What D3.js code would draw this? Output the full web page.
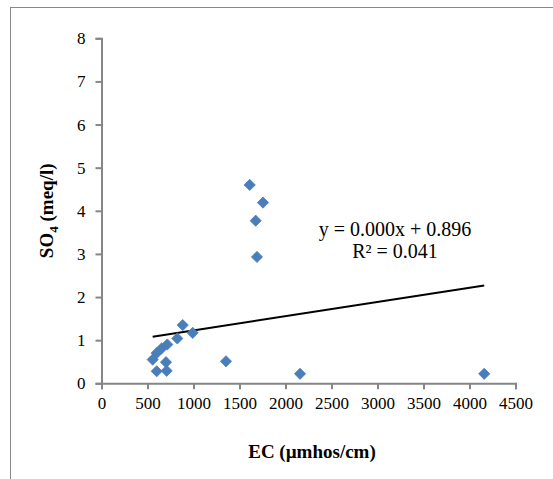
<!DOCTYPE html>
<html lang="en">
<head>
<meta charset="UTF-8">
<script src="https://d3js.org/d3.v7.min.js"></script>
<title>SO4 vs EC</title>
<style>
  body { margin: 0; background: #fff; }
  text { font-family: "Liberation Serif", "Times New Roman", serif; }
</style>
</head>
<body>
<svg id="chart" width="553" height="479"></svg>
<script>
// EC (µmhos/cm) and SO4 (meq/l) readings
var ec  = [556, 600, 654, 715, 824, 883, 991, 701, 600, 708, 1353, 1611, 1755, 1676, 1690, 2158, 4160];
var so4 = [0.55, 0.70, 0.81, 0.90, 1.04, 1.35, 1.17, 0.49, 0.28, 0.29, 0.51, 4.60, 4.19, 3.77, 2.93, 0.22, 0.22];

var xTicks = [0, 500, 1000, 1500, 2000, 2500, 3000, 3500, 4000, 4500];
var yTicks = [0, 1, 2, 3, 4, 5, 6, 7, 8];

// linear trendline y = slope*x + intercept
var slope = 0.00033;
var intercept = 0.896;

var svg = d3.select("#chart");

// chart frame (only left/top edge visible in the picture)
svg.append("rect")
    .attr("x", 10.5).attr("y", 7.5)
    .attr("width", 700).attr("height", 700)
    .attr("fill", "none")
    .attr("stroke", "#888");

var x = d3.scaleLinear().domain([0, 4500]).range([101.5, 515.5]);
var y = d3.scaleLinear().domain([0, 8]).range([383.3, 38.3]);

var axisColor = "#868686";

var gx = svg.append("g")
    .attr("transform", "translate(0," + y(0) + ")")
    .call(d3.axisBottom(x).tickValues(xTicks).tickSize(6).tickPadding(8).tickFormat(d3.format("d")));

var gy = svg.append("g")
    .attr("transform", "translate(" + x(0) + ",0)")
    .call(d3.axisLeft(y).tickValues(yTicks).tickSize(6).tickPadding(10));

[gx, gy].forEach(function (g) {
    g.select(".domain").attr("stroke", axisColor).attr("stroke-width", 2);
    g.selectAll(".tick line").attr("stroke", axisColor).attr("stroke-width", 2);
    g.selectAll(".tick text")
        .attr("fill", "#000")
        .style("font-family", "'Liberation Serif', 'Times New Roman', serif")
        .style("font-size", "17px");
});

// trendline across the range of the data
var xs = d3.extent(ec);
svg.append("line")
    .attr("x1", x(xs[0])).attr("y1", y(slope * xs[0] + intercept))
    .attr("x2", x(xs[1])).attr("y2", y(slope * xs[1] + intercept))
    .attr("stroke", "#000")
    .attr("stroke-width", 2);

// diamond markers
var r = 5.6;
svg.append("g")
    .selectAll("path")
    .data(d3.zip(ec, so4))
    .enter()
    .append("path")
        .attr("transform", function (d) { return "translate(" + x(d[0]) + "," + y(d[1]) + ")"; })
        .attr("d", "M0," + (-r) + "L" + r + ",0L0," + r + "L" + (-r) + ",0Z")
        .attr("fill", "#4a7ebb")
        .attr("stroke", "#4a7ebb")
        .attr("stroke-width", 0.8);

// trendline equation
svg.append("text")
    .attr("x", 395).attr("y", 236)
    .attr("text-anchor", "middle")
    .style("font-size", "20px")
    .text("y = 0.000x + 0.896");
svg.append("text")
    .attr("x", 395).attr("y", 258)
    .attr("text-anchor", "middle")
    .style("font-size", "20px")
    .text("R² = 0.041");

// axis titles
svg.append("text")
    .attr("x", 312).attr("y", 458)
    .attr("text-anchor", "middle")
    .style("font-size", "19px")
    .style("font-weight", "bold")
    .text("EC (µmhos/cm)");

var yt = svg.append("text")
    .attr("transform", "translate(53," + ((y(0) + y(8)) / 2) + ") rotate(-90)")
    .attr("text-anchor", "middle")
    .style("font-size", "19px")
    .style("font-weight", "bold");
yt.append("tspan").text("SO");
yt.append("tspan").attr("dy", 5).style("font-size", "13px").text("4");
yt.append("tspan").attr("dy", -5).text(" (meq/l)");
</script>
</body>
</html>
